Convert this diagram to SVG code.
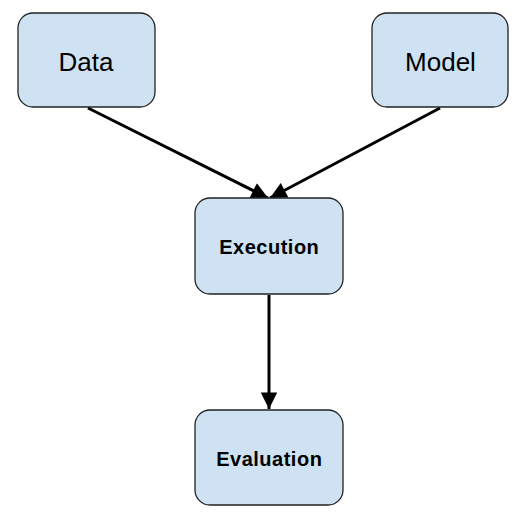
<svg xmlns="http://www.w3.org/2000/svg" width="530" height="523" viewBox="0 0 530 523">
<style>
.box{fill:#cfe2f3;stroke:#222;stroke-width:1.3}
.big{font-family:"Liberation Sans",Arial,sans-serif;font-size:26px;fill:#000;text-anchor:middle}
.bold{font-family:"Liberation Sans",Arial,sans-serif;font-size:20px;font-weight:bold;letter-spacing:0.5px;fill:#000;text-anchor:middle}
.conn{stroke:#000;stroke-width:3;fill:none}
</style>
<defs>
<marker id="ah" viewBox="0 0 10 10" refX="10" refY="5" markerWidth="7" markerHeight="5.5" markerUnits="strokeWidth" orient="auto">
<path d="M0,0 L10,5 L0,10 z" fill="#000"/>
</marker>
</defs>
<rect width="530" height="523" fill="#fff"/>
<g id="connectors">
<line class="conn" x1="88" y1="108" x2="268" y2="198" marker-end="url(#ah)"/>
<line class="conn" x1="440" y1="108" x2="270" y2="198" marker-end="url(#ah)"/>
<line class="conn" x1="269" y1="295" x2="269" y2="409" marker-end="url(#ah)"/>
</g>
<g id="data">
<rect class="box" x="18" y="13" width="137" height="94" rx="15"/>
<text class="big" x="86" y="71">Data</text>
</g>
<g id="model">
<rect class="box" x="372" y="13" width="136" height="94" rx="15"/>
<text class="big" x="440.5" y="71">Model</text>
</g>
<g id="execution">
<rect class="box" x="195" y="198" width="148" height="96" rx="15"/>
<text class="bold" x="269.3" y="254">Execution</text>
</g>
<g id="evaluation">
<rect class="box" x="195" y="410" width="148" height="95" rx="15"/>
<text class="bold" x="269.3" y="466">Evaluation</text>
</g>
</svg>
